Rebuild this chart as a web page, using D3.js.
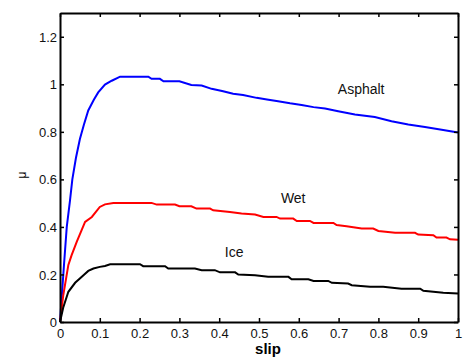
<!DOCTYPE html>
<html>
<head>
<meta charset="utf-8">
<script src="https://cdn.jsdelivr.net/npm/d3@7"></script>
<style>
  body { margin: 0; background: #fff; }
  text { font-family: "Liberation Sans", Arial, sans-serif; }
</style>
</head>
<body>
<div id="chart"></div>
<script>
// road surface friction curves, mu vs slip
const asphaltSlip = [0, 0.005, 0.01, 0.017, 0.025, 0.031, 0.04, 0.05, 0.06, 0.071,
  0.085, 0.096, 0.113, 0.13, 0.151, 0.222, 0.23, 0.251, 0.26, 0.30,
  0.33, 0.356, 0.381, 0.41, 0.435, 0.46, 0.494, 0.52, 0.548, 0.578,
  0.607, 0.637, 0.666, 0.699, 0.741, 0.791, 0.833, 0.875, 0.917, 0.959, 1.0];
const asphaltMu = [0, 0.12, 0.24, 0.40, 0.51, 0.60, 0.69, 0.77, 0.83, 0.89,
  0.935, 0.966, 0.999, 1.015, 1.032, 1.032, 1.023, 1.023, 1.013, 1.013,
  0.997, 0.995, 0.981, 0.971, 0.96, 0.955, 0.943, 0.936, 0.929, 0.92,
  0.913, 0.904, 0.898, 0.887, 0.873, 0.862, 0.845, 0.831, 0.82, 0.809, 0.797];

const wetSlip = [0, 0.008, 0.021, 0.029, 0.042, 0.063, 0.08, 0.1, 0.113, 0.134,
  0.23, 0.243, 0.289, 0.3, 0.33, 0.343, 0.377, 0.385, 0.427, 0.456,
  0.49, 0.511, 0.544, 0.553, 0.586, 0.595, 0.628, 0.637, 0.687, 0.695,
  0.72, 0.758, 0.787, 0.8, 0.842, 0.892, 0.9, 0.938, 0.946, 0.971, 0.98, 1.0];
const wetMu = [0, 0.11, 0.24, 0.28, 0.337, 0.421, 0.442, 0.484, 0.495, 0.501,
  0.501, 0.494, 0.494, 0.487, 0.487, 0.477, 0.477, 0.47, 0.463, 0.456,
  0.452, 0.442, 0.442, 0.435, 0.435, 0.425, 0.425, 0.417, 0.417, 0.408,
  0.403, 0.393, 0.393, 0.383, 0.375, 0.375, 0.368, 0.365, 0.355, 0.355, 0.348, 0.346];

const iceSlip = [0, 0.008, 0.021, 0.038, 0.059, 0.071, 0.084, 0.1, 0.113, 0.126,
  0.201, 0.209, 0.264, 0.272, 0.339, 0.356, 0.389, 0.402, 0.44, 0.448,
  0.49, 0.523, 0.574, 0.582, 0.624, 0.637, 0.674, 0.683, 0.724, 0.733,
  0.779, 0.812, 0.858, 0.905, 0.913, 0.963, 1.0];
const iceMu = [0, 0.06, 0.127, 0.165, 0.197, 0.215, 0.225, 0.232, 0.236, 0.243,
  0.243, 0.235, 0.235, 0.225, 0.225, 0.218, 0.218, 0.209, 0.209, 0.2,
  0.197, 0.19, 0.19, 0.18, 0.18, 0.173, 0.173, 0.165, 0.162, 0.155,
  0.148, 0.148, 0.14, 0.14, 0.131, 0.123, 0.12];

const surfaceNames = ["Asphalt", "Wet", "Ice"];
const labelSlip = [0.698, 0.555, 0.414];
const labelMu = [0.98, 0.52, 0.296];

const xTicks = [0, 0.1, 0.2, 0.3, 0.4, 0.5, 0.6, 0.7, 0.8, 0.9, 1];
const yTicks = [0, 0.2, 0.4, 0.6, 0.8, 1, 1.2];

width = 463
height = 360
margin = {top: 13, right: 5, bottom: 38, left: 60}

const x = d3.scaleLinear().domain([0, 1]).range([margin.left, width - margin.right]);
const y = d3.scaleLinear().domain([0, 1.3]).range([height - margin.bottom, margin.top]);

const svg = d3.select("#chart")
  .append("svg")
  .attr("width", width)
  .attr("height", height);

const series = [
  {slip: asphaltSlip, mu: asphaltMu, color: "#0000ff"},
  {slip: wetSlip, mu: wetMu, color: "#ff0000"},
  {slip: iceSlip, mu: iceMu, color: "#000000"}
];

const line = d3.line()
  .x(d => x(d[0]))
  .y(d => y(d[1]));

svg.append("g")
  .selectAll("path")
  .data(series)
  .join("path")
    .attr("fill", "none")
    .attr("stroke", d => d.color)
    .attr("stroke-width", 2)
    .attr("d", d => line(d.slip.map((s, i) => [s, d.mu[i]])));

// axes, ticks pointing inward on all four sides
const fmt = d => d3.format("")(+d.toFixed(1));

const bottomAxis = svg.append("g")
  .attr("transform", `translate(0,${height - margin.bottom})`)
  .call(d3.axisBottom(x).tickValues(xTicks).tickFormat(fmt).tickSizeInner(-4).tickSizeOuter(0).tickPadding(9));
const topAxis = svg.append("g")
  .attr("transform", `translate(0,${margin.top})`)
  .call(d3.axisTop(x).tickValues(xTicks).tickFormat("").tickSizeInner(-4).tickSizeOuter(0));
const leftAxis = svg.append("g")
  .attr("transform", `translate(${margin.left},0)`)
  .call(d3.axisLeft(y).tickValues(yTicks).tickFormat(fmt).tickSizeInner(-4).tickSizeOuter(0).tickPadding(3));
const rightAxis = svg.append("g")
  .attr("transform", `translate(${width - margin.right},0)`)
  .call(d3.axisRight(y).tickValues(yTicks).tickFormat("").tickSizeInner(-4).tickSizeOuter(0));

[bottomAxis, topAxis, leftAxis, rightAxis].forEach(g => {
  g.select(".domain").attr("stroke", "#000").attr("stroke-width", 2);
  g.selectAll(".tick line").attr("stroke", "#000").attr("stroke-width", 1.5);
  g.selectAll(".tick text")
    .attr("fill", "#111")
    .style("font-size", "13px")
    .style("font-family", '"Liberation Sans", Arial, sans-serif');
});
bottomAxis.selectAll(".tick text").attr("dy", "0.5em");
leftAxis.selectAll(".tick text").attr("dy", "0.35em");

// surface labels
svg.append("g")
  .selectAll("text")
  .data(surfaceNames)
  .join("text")
    .attr("x", (d, i) => x(labelSlip[i]))
    .attr("y", (d, i) => y(labelMu[i]))
    .attr("dy", "0.36em")
    .attr("fill", "#111")
    .style("font-size", "14px")
    .text(d => d);

// axis labels
svg.append("text")
  .attr("x", 268)
  .attr("y", 354)
  .attr("text-anchor", "middle")
  .style("font-size", "15px")
  .style("font-weight", "bold")
  .text("slip");

svg.append("text")
  .attr("transform", "translate(26,175) rotate(-90)")
  .attr("text-anchor", "middle")
  .style("font-size", "12px")
  .text("μ");
</script>
</body>
</html>
